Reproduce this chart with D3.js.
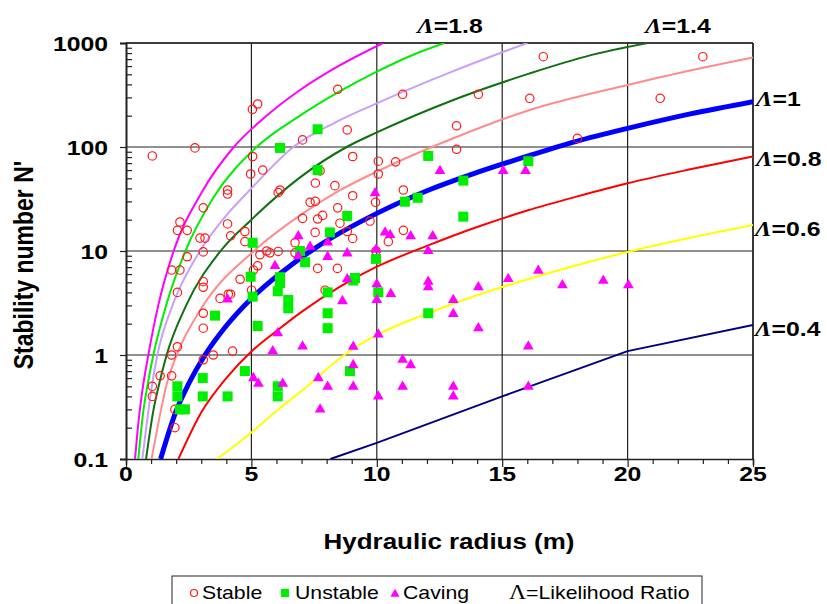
<!DOCTYPE html>
<html>
<head>
<meta charset="utf-8">
<script src="https://cdn.jsdelivr.net/npm/d3@7"></script>
<style>
  body { margin: 0; background: #fff; }
  svg { display: block; font-family: "Liberation Sans", Arial, sans-serif; }
  .tick-label { font-size: 21px; font-weight: bold; fill: #000; }
  .axis-title { font-size: 22px; font-weight: bold; fill: #000; }
  .lr-label { font-size: 21px; font-weight: bold; fill: #000; }
  .legend-text { font-size: 18px; fill: #000; }
</style>
</head>
<body>
<div id="chart"></div>
<script>
const hrTicks = [0, 5, 10, 15, 20, 25];
const nTicks = [0.1, 1, 10, 100, 1000];
const nTickLabels = ['0.1', '1', '10', '100', '1000'];

// likelihood ratio curves, [hydraulic radius, N']
const lr20 = [[0.36,0.1],[0.5,0.23],[0.65,0.45],[0.89,1],[1.3,3.1],[1.9,10],[3,36],[4.3,100],[5.5,190],[6.94,353],[8.5,605],[10.25,1000]];
const lr18 = [[0.49,0.1],[0.7,0.3],[0.85,0.5],[1.09,1],[1.6,3],[2.37,10],[3.5,33],[5.21,100],[6.94,200],[8.5,340],[10,530],[11.5,780],[12.7,1000]];
const lr16 = [[0.65,0.1],[0.9,0.3],[1.0,0.45],[1.25,1],[1.9,3.2],[2.95,10],[4,22],[5,40],[6.67,100],[8.3,170],[10,263],[13,530],[16,1000]];
const lr14 = [[0.8,0.1],[1.1,0.3],[1.3,0.5],[1.62,1],[2.4,3],[3.77,10],[5,20],[6.94,51],[8.8,100],[10,138],[13,280],[16.1,510],[18.5,760],[20.8,1000]];
const lr12 = [[1.02,0.1],[1.4,0.3],[1.6,0.5],[2.02,1],[3,2.8],[5.1,10],[6.94,22],[8.5,38],[10,58],[13,120],[16.1,227],[20,395],[22.5,543],[25,725]];
const lr10 = [[1.38,0.1],[2,0.29],[2.5,0.53],[3.15,1],[4,1.91],[5,3.5],[6.67,7.6],[7.5,10.5],[10,23],[12,38],[14,57],[16.1,83],[18,114],[20,151],[22.5,208],[25,273]];
const lr08 = [[2.09,0.1],[3,0.28],[4,0.6],[5,1.08],[6,1.7],[7,2.6],[8.5,4.5],[10,7.06],[12,11.2],[14,17],[16,24.5],[18,33.5],[20,44.8],[22.5,61],[25,81]];
const lr06 = [[3.62,0.1],[5,0.18],[6,0.29],[7,0.45],[8.7,1],[10,1.56],[12,2.5],[15,4.5],[17.5,6.8],[20,9.8],[22.5,13.4],[25,17.8]];
const lr04 = [[8.15,0.1],[10,0.143],[15,0.4],[20,1.09],[25,1.94]];

const lrCurves = [lr20, lr18, lr16, lr14, lr12, lr10, lr08, lr06, lr04];
const lrColors = ['#ff00ff', '#00ee00', '#c8a0f8', '#107010', '#ff8c8c', '#0000ff', '#ff0000', '#ffff00', '#000080'];
const lrWidths = [2, 2, 2, 2, 2, 5, 2, 2, 2];

// case histories, [hydraulic radius, N']
const stable = [
  [1.05,82],[2.75,98],[5.04,230],[5.25,259],[8.44,359],[11.03,321],[14.05,321],[16.64,738],[23.0,738],
  [16.1,294],[21.3,294],[13.18,160],[13.18,95],[18.0,121],[10.75,72],[11.06,38.6],[11.06,15.8],[10.46,12.3],
  [8.82,146],[9.04,81],[10.06,73],[10.06,55],[7.04,117],[7.74,59],[7.55,45],[8.33,42.5],[9.04,34],
  [7.34,29.4],[7.55,30],[8.44,26],[7.04,20.6],[7.64,20.3],[7.84,22],[8.53,18.5],[7.54,15.1],[8.82,15.4],
  [9.04,13.2],[9.73,19.4],[9.95,29.4],[6.07,36.4],[6.14,38.6],[5.45,60],[4.97,55],[5.05,81],[4.05,38.6],
  [4.05,35.3],[3.08,26],[4.05,18.2],[4.17,14],[4.74,15.4],[4.74,12.3],[2.95,13.3],[3.15,13.3],[2.05,15.8],
  [2.44,15.8],[2.15,19],[3.08,9.8],[2.44,8.8],[1.82,6.56],[2.15,6.56],[2.05,4.0],[3.08,5.07],[3.08,4.48],
  [3.08,2.52],[3.08,1.81],[2.05,1.2],[1.82,1.0],[3.08,0.9],[3.48,1.0],[4.25,1.09],[1.36,0.63],[1.82,0.63],
  [1.05,0.5],[1.05,0.4],[1.95,0.3],[1.95,0.2],[3.75,3.5],[4.08,3.84],[4.17,3.84],[4.55,5.35],[5.01,4.2],
  [5.08,6.56],[5.25,7.2],[5.34,9.2],[5.61,10],[5.74,9.6],[6.07,9.9],[6.74,9.6],[6.74,12],[7.64,6.8],
  [8.43,6.8],[7.94,4.2],[9.97,10]
];
const unstable = [
  [7.64,148],[6.14,98],[7.64,60],[12.05,82],[13.45,47.5],[13.45,21.4],[11.12,29.8],[11.63,32.5],[8.82,21.7],
  [8.13,15.1],[5.05,12],[16.04,73],[6.94,10],[7.14,7.8],[9.97,8.4],[4.97,5.66],[6.14,5.6],[6.14,4.9],
  [6.05,4.1],[6.47,3.38],[6.47,2.81],[5.05,3.64],[8.04,4.0],[8.04,2.52],[8.04,1.81],[9.06,5.2],[9.13,5.5],
  [10.06,4.0],[3.55,2.39],[5.25,1.9],[12.05,2.52],[4.74,0.7],[8.93,0.7],[2.05,0.5],[2.05,0.4],[3.06,0.6],
  [3.06,0.4],[4.05,0.4],[6.05,0.5],[6.05,0.4],[2.15,0.3],[2.35,0.3]
];
const caving = [
  [12.52,59],[9.93,36],[10.33,15.1],[10.53,14.3],[11.35,13.9],[12.23,13.9],[6.87,13.9],[15.04,59],[15.93,59],
  [8.04,12.1],[7.34,11],[6.87,8.95],[5.94,7.2],[8.04,8.8],[8.82,9.5],[9.97,10.3],[8.82,5.35],[10.0,4.8],
  [10.0,3.38],[10.56,3.86],[12.05,5.07],[12.05,4.48],[13.05,3.38],[13.05,2.48],[14.05,4.48],[14.05,1.81],
  [15.24,5.38],[4.05,3.43],[8.63,3.3],[6.05,1.62],[5.85,1.09],[7.04,1.21],[9.06,1.2],[10.06,1.58],[5.08,0.6],
  [5.28,0.53],[6.25,0.53],[7.67,0.6],[8.04,0.495],[9.06,0.8],[9.06,0.495],[10.06,0.4],[7.74,0.3],[11.03,0.9],
  [11.35,0.8],[11.03,0.495],[13.05,0.495],[13.05,0.4],[12.05,10],[16.44,6.48],[17.4,4.7],[19.03,5.18],
  [20.03,4.7],[16.04,1.21],[16.04,0.495]
];

const lrLabels = ['=1.8', '=1.4', '=1', '=0.8', '=0.6', '=0.4'];

const width = 827, height = 604;
const plotLeft = 126, plotRight = 753, plotTop = 43, plotBottom = 459;
const stretch = 1.18; // the original text is drawn a little wide

const svg = d3.select('#chart').append('svg')
  .attr('width', width).attr('height', height)
  .attr('viewBox', `0 0 ${width} ${height}`);

const x = d3.scaleLinear().domain([0, 25]).range([plotLeft, plotRight]);
const y = d3.scaleLog().domain([0.1, 1000]).range([plotBottom, plotTop]);

// text placed at (px, py), widened horizontally
function wideText(parent, px, py, cls, anchor) {
  return parent.append('text').attr('class', cls)
    .attr('transform', `translate(${px},${py}) scale(${stretch},1)`)
    .attr('text-anchor', anchor || 'start');
}

svg.append('clipPath').attr('id', 'plot-clip')
  .append('rect').attr('x', plotLeft).attr('y', plotTop)
  .attr('width', plotRight - plotLeft).attr('height', plotBottom - plotTop);

// grid
const grid = svg.append('g').attr('stroke', '#222').attr('stroke-width', 1.2);
hrTicks.filter(d => d > 0).forEach(d => {
  grid.append('line').attr('x1', x(d)).attr('x2', x(d)).attr('y1', plotTop).attr('y2', plotBottom);
});
nTicks.filter(d => d > 0.1).forEach(d => {
  grid.append('line').attr('x1', plotLeft).attr('x2', plotRight).attr('y1', y(d)).attr('y2', y(d));
});

// x axis: minor ticks every unit, pointing down
const xAxis = d3.axisBottom(x).tickValues(d3.range(0, 26)).tickSize(6).tickFormat('');
svg.append('g').attr('transform', `translate(0,${plotBottom})`).call(xAxis)
  .call(g => g.select('.domain').attr('stroke', '#222').attr('stroke-width', 1.5))
  .call(g => g.selectAll('.tick line').attr('stroke', '#222').attr('stroke-width', 1.2)
    .attr('y2', d => d % 5 === 0 ? 8 : 5));

hrTicks.forEach(d => wideText(svg, x(d), 481, 'tick-label', 'middle').text(d));

// y axis: major ticks outside, minor ticks inside
const yMinor = [];
nTicks.slice(0, -1).forEach(d => { for (let k = 2; k <= 9; k++) yMinor.push(d * k); });
svg.append('g').attr('transform', `translate(${plotLeft},0)`)
  .call(d3.axisLeft(y).tickValues(nTicks).tickSize(6).tickFormat(''))
  .call(g => g.select('.domain').attr('stroke', '#222').attr('stroke-width', 2))
  .call(g => g.selectAll('.tick line').attr('stroke', '#222').attr('stroke-width', 1.2));
svg.append('g').attr('transform', `translate(${plotLeft},0)`)
  .call(d3.axisRight(y).tickValues(yMinor).tickSize(6).tickFormat(''))
  .call(g => g.select('.domain').remove())
  .call(g => g.selectAll('.tick line').attr('stroke', '#222').attr('stroke-width', 1.2));

nTicks.forEach((d, i) => wideText(svg, 108, y(d) + 7.5, 'tick-label', 'end').text(nTickLabels[i]));

// top and right border
svg.append('line').attr('x1', plotLeft).attr('x2', plotRight).attr('y1', plotTop).attr('y2', plotTop)
  .attr('stroke', '#222').attr('stroke-width', 1.5);
svg.append('line').attr('x1', plotRight).attr('x2', plotRight).attr('y1', plotTop).attr('y2', plotBottom)
  .attr('stroke', '#222').attr('stroke-width', 1.5);

// likelihood ratio curves
const line = d3.line().x(d => x(d[0])).y(d => y(d[1]));
const curveG = svg.append('g').attr('clip-path', 'url(#plot-clip)');
lrCurves.forEach((c, i) => {
  curveG.append('path')
    .attr('d', line.curve(i === lrCurves.length - 1 ? d3.curveLinear : d3.curveMonotoneX)(c))
    .attr('fill', 'none')
    .attr('stroke', lrColors[i])
    .attr('stroke-width', lrWidths[i])
    .attr('stroke-linejoin', 'round');
});

// points
svg.append('g').selectAll('circle').data(stable).join('circle')
  .attr('cx', d => x(d[0])).attr('cy', d => y(d[1])).attr('r', 4.2)
  .attr('fill', 'none').attr('stroke', '#ff1a1a').attr('stroke-width', 1.2);

svg.append('g').selectAll('rect').data(unstable).join('rect')
  .attr('x', d => x(d[0]) - 5).attr('y', d => y(d[1]) - 5)
  .attr('width', 10).attr('height', 10)
  .attr('fill', '#00ee00');

const tri = d3.symbol().type(d3.symbolTriangle).size(50);
svg.append('g').selectAll('path').data(caving).join('path')
  .attr('transform', d => `translate(${x(d[0])},${y(d[1])})`)
  .attr('d', tri)
  .attr('fill', '#ff00ff');

// curve labels
const labelPos = [[450, 33], [678, 33], [756, 106], [756, 166], [755, 236], [755, 336]];
lrLabels.forEach((t, i) => {
  const [lx, ly] = labelPos[i];
  const txt = wideText(svg, lx, ly, 'lr-label', i < 2 ? 'middle' : 'start');
  txt.append('tspan').attr('font-family', '"Liberation Serif", "Times New Roman", serif')
    .attr('font-style', 'italic').text('Λ');
  txt.append('tspan').text(t);
});

// axis titles
wideText(svg, 449, 549, 'axis-title', 'middle').text('Hydraulic radius (m)');
svg.append('text').attr('class', 'axis-title')
  .attr('transform', `translate(33,265) scale(${stretch},1) rotate(-90)`)
  .attr('text-anchor', 'middle')
  .style('font-size', '23px')
  .text("Stability number N'");

// legend
const lg = svg.append('g');
lg.append('rect').attr('x', 172).attr('y', 576).attr('width', 530).attr('height', 40)
  .attr('fill', '#fff').attr('stroke', '#222').attr('stroke-width', 1);
lg.append('circle').attr('cx', 194).attr('cy', 593).attr('r', 3.5)
  .attr('fill', 'none').attr('stroke', '#ff1a1a').attr('stroke-width', 1.2);
wideText(lg, 202, 599, 'legend-text').text('Stable');
lg.append('rect').attr('x', 281).attr('y', 589).attr('width', 8).attr('height', 8).attr('fill', '#00ee00');
wideText(lg, 295, 599, 'legend-text').text('Unstable');
lg.append('path').attr('transform', 'translate(395,594)').attr('d', d3.symbol().type(d3.symbolTriangle).size(36))
  .attr('fill', '#ff00ff');
wideText(lg, 403, 599, 'legend-text').text('Caving');
const lt = wideText(lg, 509, 599, 'legend-text');
lt.append('tspan').attr('font-family', '"Liberation Serif", "Times New Roman", serif').attr('font-size', 20).text('Λ');
lt.append('tspan').text('=Likelihood Ratio');
</script>
</body>
</html>
